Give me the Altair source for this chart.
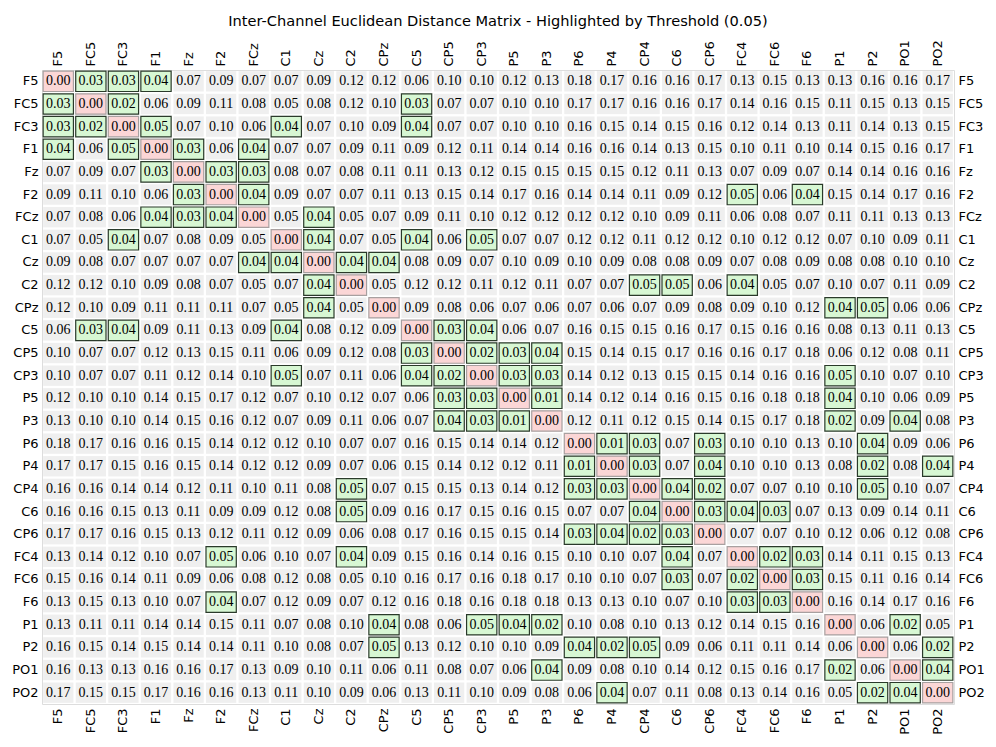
import altair as alt
import pandas as pd

channels = ["F5", "FC5", "FC3", "F1", "Fz", "F2", "FCz", "C1", "Cz", "C2", "CPz", "C5",
            "CP5", "CP3", "P5", "P3", "P6", "P4", "CP4", "C6", "CP6", "FC4", "FC6", "F6",
            "P1", "P2", "PO1", "PO2"]

threshold = 0.05

# rows in channel order; cells shown as "0.05" but highlighted are stored as 0.049
distances = [
    [0.00, 0.03, 0.03, 0.04, 0.07, 0.09, 0.07, 0.07, 0.09, 0.12, 0.12, 0.06, 0.10, 0.10, 0.12, 0.13, 0.18, 0.17, 0.16, 0.16, 0.17, 0.13, 0.15, 0.13, 0.13, 0.16, 0.16, 0.17],
    [0.03, 0.00, 0.02, 0.06, 0.09, 0.11, 0.08, 0.05, 0.08, 0.12, 0.10, 0.03, 0.07, 0.07, 0.10, 0.10, 0.17, 0.17, 0.16, 0.16, 0.17, 0.14, 0.16, 0.15, 0.11, 0.15, 0.13, 0.15],
    [0.03, 0.02, 0.00, 0.049, 0.07, 0.10, 0.06, 0.04, 0.07, 0.10, 0.09, 0.04, 0.07, 0.07, 0.10, 0.10, 0.16, 0.15, 0.14, 0.15, 0.16, 0.12, 0.14, 0.13, 0.11, 0.14, 0.13, 0.15],
    [0.04, 0.06, 0.049, 0.00, 0.03, 0.06, 0.04, 0.07, 0.07, 0.09, 0.11, 0.09, 0.12, 0.11, 0.14, 0.14, 0.16, 0.16, 0.14, 0.13, 0.15, 0.10, 0.11, 0.10, 0.14, 0.15, 0.16, 0.17],
    [0.07, 0.09, 0.07, 0.03, 0.00, 0.03, 0.03, 0.08, 0.07, 0.08, 0.11, 0.11, 0.13, 0.12, 0.15, 0.15, 0.15, 0.15, 0.12, 0.11, 0.13, 0.07, 0.09, 0.07, 0.14, 0.14, 0.16, 0.16],
    [0.09, 0.11, 0.10, 0.06, 0.03, 0.00, 0.04, 0.09, 0.07, 0.07, 0.11, 0.13, 0.15, 0.14, 0.17, 0.16, 0.14, 0.14, 0.11, 0.09, 0.12, 0.049, 0.06, 0.04, 0.15, 0.14, 0.17, 0.16],
    [0.07, 0.08, 0.06, 0.04, 0.03, 0.04, 0.00, 0.05, 0.04, 0.05, 0.07, 0.09, 0.11, 0.10, 0.12, 0.12, 0.12, 0.12, 0.10, 0.09, 0.11, 0.06, 0.08, 0.07, 0.11, 0.11, 0.13, 0.13],
    [0.07, 0.05, 0.04, 0.07, 0.08, 0.09, 0.05, 0.00, 0.04, 0.07, 0.05, 0.04, 0.06, 0.049, 0.07, 0.07, 0.12, 0.12, 0.11, 0.12, 0.12, 0.10, 0.12, 0.12, 0.07, 0.10, 0.09, 0.11],
    [0.09, 0.08, 0.07, 0.07, 0.07, 0.07, 0.04, 0.04, 0.00, 0.04, 0.04, 0.08, 0.09, 0.07, 0.10, 0.09, 0.10, 0.09, 0.08, 0.08, 0.09, 0.07, 0.08, 0.09, 0.08, 0.08, 0.10, 0.10],
    [0.12, 0.12, 0.10, 0.09, 0.08, 0.07, 0.05, 0.07, 0.04, 0.00, 0.05, 0.12, 0.12, 0.11, 0.12, 0.11, 0.07, 0.07, 0.049, 0.049, 0.06, 0.04, 0.05, 0.07, 0.10, 0.07, 0.11, 0.09],
    [0.12, 0.10, 0.09, 0.11, 0.11, 0.11, 0.07, 0.05, 0.04, 0.05, 0.00, 0.09, 0.08, 0.06, 0.07, 0.06, 0.07, 0.06, 0.07, 0.09, 0.08, 0.09, 0.10, 0.12, 0.04, 0.049, 0.06, 0.06],
    [0.06, 0.03, 0.04, 0.09, 0.11, 0.13, 0.09, 0.04, 0.08, 0.12, 0.09, 0.00, 0.03, 0.04, 0.06, 0.07, 0.16, 0.15, 0.15, 0.16, 0.17, 0.15, 0.16, 0.16, 0.08, 0.13, 0.11, 0.13],
    [0.10, 0.07, 0.07, 0.12, 0.13, 0.15, 0.11, 0.06, 0.09, 0.12, 0.08, 0.03, 0.00, 0.02, 0.03, 0.04, 0.15, 0.14, 0.15, 0.17, 0.16, 0.16, 0.17, 0.18, 0.06, 0.12, 0.08, 0.11],
    [0.10, 0.07, 0.07, 0.11, 0.12, 0.14, 0.10, 0.049, 0.07, 0.11, 0.06, 0.04, 0.02, 0.00, 0.03, 0.03, 0.14, 0.12, 0.13, 0.15, 0.15, 0.14, 0.16, 0.16, 0.049, 0.10, 0.07, 0.10],
    [0.12, 0.10, 0.10, 0.14, 0.15, 0.17, 0.12, 0.07, 0.10, 0.12, 0.07, 0.06, 0.03, 0.03, 0.00, 0.01, 0.14, 0.12, 0.14, 0.16, 0.15, 0.16, 0.18, 0.18, 0.04, 0.10, 0.06, 0.09],
    [0.13, 0.10, 0.10, 0.14, 0.15, 0.16, 0.12, 0.07, 0.09, 0.11, 0.06, 0.07, 0.04, 0.03, 0.01, 0.00, 0.12, 0.11, 0.12, 0.15, 0.14, 0.15, 0.17, 0.18, 0.02, 0.09, 0.04, 0.08],
    [0.18, 0.17, 0.16, 0.16, 0.15, 0.14, 0.12, 0.12, 0.10, 0.07, 0.07, 0.16, 0.15, 0.14, 0.14, 0.12, 0.00, 0.01, 0.03, 0.07, 0.03, 0.10, 0.10, 0.13, 0.10, 0.04, 0.09, 0.06],
    [0.17, 0.17, 0.15, 0.16, 0.15, 0.14, 0.12, 0.12, 0.09, 0.07, 0.06, 0.15, 0.14, 0.12, 0.12, 0.11, 0.01, 0.00, 0.03, 0.07, 0.04, 0.10, 0.10, 0.13, 0.08, 0.02, 0.08, 0.04],
    [0.16, 0.16, 0.14, 0.14, 0.12, 0.11, 0.10, 0.11, 0.08, 0.049, 0.07, 0.15, 0.15, 0.13, 0.14, 0.12, 0.03, 0.03, 0.00, 0.04, 0.02, 0.07, 0.07, 0.10, 0.10, 0.049, 0.10, 0.07],
    [0.16, 0.16, 0.15, 0.13, 0.11, 0.09, 0.09, 0.12, 0.08, 0.049, 0.09, 0.16, 0.17, 0.15, 0.16, 0.15, 0.07, 0.07, 0.04, 0.00, 0.03, 0.04, 0.03, 0.07, 0.13, 0.09, 0.14, 0.11],
    [0.17, 0.17, 0.16, 0.15, 0.13, 0.12, 0.11, 0.12, 0.09, 0.06, 0.08, 0.17, 0.16, 0.15, 0.15, 0.14, 0.03, 0.04, 0.02, 0.03, 0.00, 0.07, 0.07, 0.10, 0.12, 0.06, 0.12, 0.08],
    [0.13, 0.14, 0.12, 0.10, 0.07, 0.049, 0.06, 0.10, 0.07, 0.04, 0.09, 0.15, 0.16, 0.14, 0.16, 0.15, 0.10, 0.10, 0.07, 0.04, 0.07, 0.00, 0.02, 0.03, 0.14, 0.11, 0.15, 0.13],
    [0.15, 0.16, 0.14, 0.11, 0.09, 0.06, 0.08, 0.12, 0.08, 0.05, 0.10, 0.16, 0.17, 0.16, 0.18, 0.17, 0.10, 0.10, 0.07, 0.03, 0.07, 0.02, 0.00, 0.03, 0.15, 0.11, 0.16, 0.14],
    [0.13, 0.15, 0.13, 0.10, 0.07, 0.04, 0.07, 0.12, 0.09, 0.07, 0.12, 0.16, 0.18, 0.16, 0.18, 0.18, 0.13, 0.13, 0.10, 0.07, 0.10, 0.03, 0.03, 0.00, 0.16, 0.14, 0.17, 0.16],
    [0.13, 0.11, 0.11, 0.14, 0.14, 0.15, 0.11, 0.07, 0.08, 0.10, 0.04, 0.08, 0.06, 0.049, 0.04, 0.02, 0.10, 0.08, 0.10, 0.13, 0.12, 0.14, 0.15, 0.16, 0.00, 0.06, 0.02, 0.05],
    [0.16, 0.15, 0.14, 0.15, 0.14, 0.14, 0.11, 0.10, 0.08, 0.07, 0.049, 0.13, 0.12, 0.10, 0.10, 0.09, 0.04, 0.02, 0.049, 0.09, 0.06, 0.11, 0.11, 0.14, 0.06, 0.00, 0.06, 0.02],
    [0.16, 0.13, 0.13, 0.16, 0.16, 0.17, 0.13, 0.09, 0.10, 0.11, 0.06, 0.11, 0.08, 0.07, 0.06, 0.04, 0.09, 0.08, 0.10, 0.14, 0.12, 0.15, 0.16, 0.17, 0.02, 0.06, 0.00, 0.04],
    [0.17, 0.15, 0.15, 0.17, 0.16, 0.16, 0.13, 0.11, 0.10, 0.09, 0.06, 0.13, 0.11, 0.10, 0.09, 0.08, 0.06, 0.04, 0.07, 0.11, 0.08, 0.13, 0.14, 0.16, 0.05, 0.02, 0.04, 0.00],
]

records = []
for i, r in enumerate(channels):
    for j, c in enumerate(channels):
        v = distances[i][j]
        if i == j:
            status = "diag"
        elif v < threshold:
            status = "below"
        else:
            status = "above"
        records.append({"row": r, "col": c, "value": v, "label": f"{v:.2f}", "status": status})
df = pd.DataFrame(records)

xscale = alt.Scale(paddingInner=0.07, paddingOuter=0.035)
yscale = alt.Scale(paddingInner=0.1, paddingOuter=0.05)

label_style = dict(ticks=False, domain=False, labelFont="DejaVu Sans", labelFontSize=13,
                   labelColor="black", title=None, labelPadding=4, grid=False)

x_top = alt.X("col:N", sort=channels, scale=xscale,
              axis=alt.Axis(orient="top", labelAngle=270, labelAlign="left",
                            labelBaseline="middle", **label_style))
x_bottom = alt.X("col:N", sort=channels, scale=xscale,
                 axis=alt.Axis(orient="bottom", labelAngle=270, labelAlign="right",
                               labelBaseline="middle", **label_style))
y_left = alt.Y("row:N", sort=channels, scale=yscale,
               axis=alt.Axis(orient="left", **label_style))
y_right = alt.Y("row:N", sort=channels, scale=yscale,
                axis=alt.Axis(orient="right", labelAlign="left", **label_style))

base = alt.Chart(df).mark_rect(color="#efefef").encode(x=x_top, y=y_left)

hl = alt.Chart(df).transform_filter(alt.datum.status != "above").mark_rect(strokeWidth=1.2).encode(
    x=alt.X("col:N", sort=channels, scale=xscale, axis=None),
    y=alt.Y("row:N", sort=channels, scale=yscale, axis=None),
    fill=alt.Fill("status:N", scale=alt.Scale(domain=["diag", "below"], range=["#fbd6d6", "#d7f7d3"]), legend=None),
    stroke=alt.Stroke("status:N", scale=alt.Scale(domain=["diag", "below"], range=["#a8a0a0", "#2a3a2a"]), legend=None),
)

txt = alt.Chart(df).mark_text(font="Liberation Serif", fontSize=14, color="black", baseline="middle").encode(
    x=x_bottom, y=y_right, text="label:N"
)

chart = alt.layer(base, hl, txt).resolve_axis(x="independent", y="independent").properties(
    width=912,
    height=634,
    title=alt.TitleParams(
        "Inter-Channel Euclidean Distance Matrix - Highlighted by Threshold (0.05)",
        font="DejaVu Sans", fontSize=14.6, fontWeight="normal", anchor="middle", color="black", offset=11,
    ),
    autosize=alt.AutoSizeParams(type="none"),
    padding={"left": 34, "top": 62, "right": 34, "bottom": 35},
).configure_view(stroke=None).configure(background="white")

chart.save("out.html", embed_options={"renderer": "svg", "actions": False})
